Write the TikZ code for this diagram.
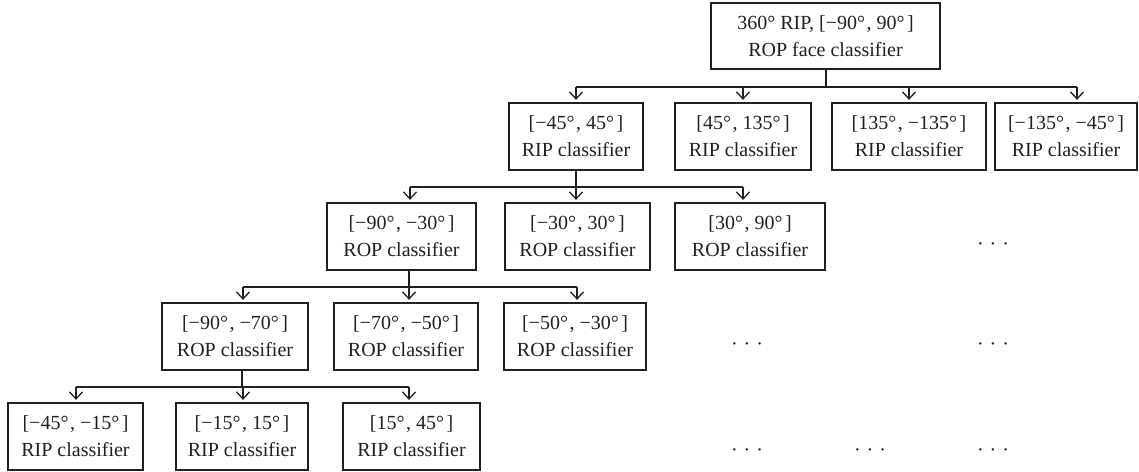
\documentclass[tikz,border=0pt]{standalone}
\usepackage{fontspec}
\setmainfont{Liberation Serif}
\usetikzlibrary{arrows.meta}
\definecolor{ink}{HTML}{231F20}
% angle interval label, e.g. [-45°, 45°]
\newcommand\rng[2]{[#1°\kern1.5pt, #2°\kern2.5pt]}

\begin{document}
\begin{tikzpicture}[x=1pt,y=-1pt,
  font=\fontsize{20}{27}\selectfont, text=ink,
  clf/.style={draw=ink, line width=1.3pt, inner sep=0pt, minimum height=67pt, align=center},
  link/.style={draw=ink, line width=1.3pt},
  arr/.style={link, -{Straight Barb[length=7pt,width=13pt,line width=1.3pt]}, shorten >=2.5pt},
  more/.style={inner sep=0pt}]
\useasboundingbox (0,0) rectangle (1139,471);

% root classifier
\node[clf, minimum width=229pt, minimum height=66pt] (root) at (825.5,36)
  {360° RIP, \rng{−90}{90}\\ROP face classifier};

% level 1: RIP classifiers
\node[clf, minimum width=134pt] (c1) at (576,136.5) {\rng{−45}{45}\\RIP classifier};
\node[clf, minimum width=136pt] (c2) at (743,136.5) {\rng{45}{135}\\RIP classifier};
\node[clf, minimum width=154pt] (c3) at (909,136.5) {\rng{135}{−135}\\RIP classifier};
\node[clf, minimum width=142pt] (c4) at (1066,136.5) {\rng{−135}{−45}\\RIP classifier};

% level 2: ROP classifiers
\node[clf, minimum width=149pt] (d1) at (401.5,236.5) {\rng{−90}{−30}\\ROP classifier};
\node[clf, minimum width=145pt] (d2) at (577.5,236.5) {\rng{−30}{30}\\ROP classifier};
\node[clf, minimum width=150pt] (d3) at (750,236.5) {\rng{30}{90}\\ROP classifier};

% level 3: ROP classifiers
\node[clf, minimum width=146pt] (e1) at (235,336.5) {\rng{−90}{−70}\\ROP classifier};
\node[clf, minimum width=144pt] (e2) at (406,336.5) {\rng{−70}{−50}\\ROP classifier};
\node[clf, minimum width=142pt] (e3) at (575,336.5) {\rng{−50}{−30}\\ROP classifier};

% level 4: RIP classifiers
\node[clf, minimum width=135pt] (f1) at (75.5,436.5) {\rng{−45}{−15}\\RIP classifier};
\node[clf, minimum width=132pt] (f2) at (242,436.5) {\rng{−15}{15}\\RIP classifier};
\node[clf, minimum width=137pt] (f3) at (411.5,436.5) {\rng{15}{45}\\RIP classifier};

% ellipses for the branches that are not expanded
\node[more] (m2) at (993,247) {·\hspace{6pt}·\hspace{6pt}·};
\node[more] (m3a) at (747,347) {·\hspace{6pt}·\hspace{6pt}·};
\node[more] (m3b) at (993,347) {·\hspace{6pt}·\hspace{6pt}·};
\node[more] (m4a) at (747,453) {·\hspace{6pt}·\hspace{6pt}·};
\node[more] (m4b) at (870,453) {·\hspace{6pt}·\hspace{6pt}·};
\node[more] (m4c) at (993,453) {·\hspace{6pt}·\hspace{6pt}·};

% bus junctions (stem from parent) and branch points
\coordinate (s1) at (826,87);
\coordinate (a11) at (576,87);  \coordinate (a12) at (743,87);
\coordinate (a13) at (909,87);  \coordinate (a14) at (1077,87);
\coordinate (s2) at (576,187);
\coordinate (a21) at (410,187); \coordinate (a22) at (576,187); \coordinate (a23) at (743,187);
\coordinate (s3) at (409,287);
\coordinate (a31) at (243,287); \coordinate (a32) at (409,287); \coordinate (a33) at (577,287);
\coordinate (s4) at (242,387);
\coordinate (a41) at (76,387);  \coordinate (a42) at (243,387); \coordinate (a43) at (409,387);

% level 1 connectors
\draw[link] (s1 |- root.south) -- (s1);
\draw[link] (a11) -- (a14);
\draw[arr] (a11) -- (a11 |- c1.north);
\draw[arr] (a12) -- (a12 |- c2.north);
\draw[arr] (a13) -- (a13 |- c3.north);
\draw[arr] (a14) -- (a14 |- c4.north);

% level 2 connectors
\draw[link] (s2 |- c1.south) -- (s2);
\draw[link] (a21) -- (a23);
\draw[arr] (a21) -- (a21 |- d1.north);
\draw[arr] (a22) -- (a22 |- d2.north);
\draw[arr] (a23) -- (a23 |- d3.north);

% level 3 connectors
\draw[link] (s3 |- d1.south) -- (s3);
\draw[link] (a31) -- (a33);
\draw[arr] (a31) -- (a31 |- e1.north);
\draw[arr] (a32) -- (a32 |- e2.north);
\draw[arr] (a33) -- (a33 |- e3.north);

% level 4 connectors
\draw[link] (s4 |- e1.south) -- (s4);
\draw[link] (a41) -- (a43);
\draw[arr] (a41) -- (a41 |- f1.north);
\draw[arr] (a42) -- (a42 |- f2.north);
\draw[arr] (a43) -- (a43 |- f3.north);
\end{tikzpicture}
\end{document}
